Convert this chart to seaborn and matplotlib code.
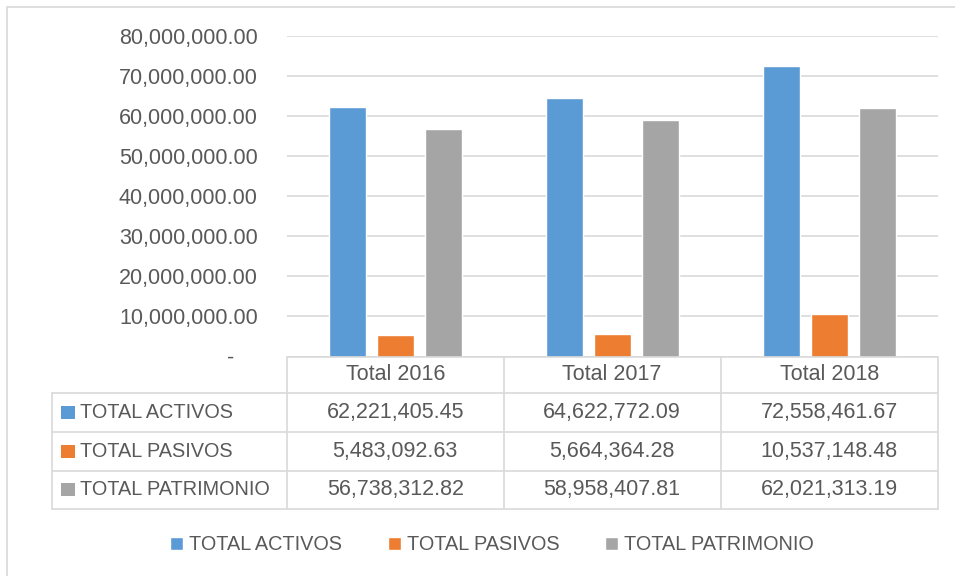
import matplotlib
matplotlib.use("Agg")
import matplotlib.pyplot as plt
import seaborn as sns
import pandas as pd
from matplotlib.lines import Line2D
from matplotlib.patches import Rectangle

# data from the chart / table
years = ["Total 2016", "Total 2017", "Total 2018"]
series = ["TOTAL ACTIVOS", "TOTAL PASIVOS", "TOTAL PATRIMONIO"]
activos = [62221405.45, 64622772.09, 72558461.67]
pasivos = [5483092.63, 5664364.28, 10537148.48]
patrimonio = [56738312.82, 58958407.81, 62021313.19]
colors = ["#5B9BD5", "#ED7D31", "#A5A5A5"]

values = [activos, pasivos, patrimonio]
df = pd.DataFrame({
    "year": [y for s in series for y in years],
    "serie": [s for s in series for y in years],
    "valor": [v for vals in values for v in vals],
})

sns.set_theme(style="white")
plt.rcParams["font.family"] = ["Liberation Sans", "DejaVu Sans"]
txt = "#595959"
line_c = "#d9d9d9"
fs = 15.5     # numbers
fs_lab = 14.3  # series names

W, H = 955, 576
fig = plt.figure(figsize=(W / 100, H / 100), dpi=100)


# pixel -> figure fraction helpers
def fx(px):
    return px / W


def fy(py):
    return 1 - py / H


# plot area
ax = fig.add_axes([fx(287), fy(356.5), (938 - 287) / W, (356.5 - 36) / H])
sns.barplot(
    data=df, x="year", y="valor", hue="serie",
    palette=colors, saturation=1, width=0.668, gap=0.23,
    errorbar=None, ax=ax
)
ax.set_xlim(-0.5, 2.5)
ax.set_ylim(0, 80e6)
ticks = [i * 10e6 for i in range(9)]
ax.set_yticks(ticks)
ax.set_yticklabels(["-    " if t == 0 else f"{t:,.2f}" for t in ticks])
ax.set_xticks([])
ax.set_xlabel("")
ax.set_ylabel("")
ax.tick_params(axis="y", length=0, pad=21, labelsize=fs, labelcolor=txt)
ax.yaxis.grid(True, color=line_c, lw=1.2)
ax.set_axisbelow(True)
for sp in ax.spines.values():
    sp.set_visible(False)

# legend below the table
sns.move_legend(
    ax, "center",
    bbox_to_anchor=(fx(492), fy(545)), bbox_transform=fig.transFigure,
    ncol=3, frameon=False, title=None, fontsize=fs_lab,
    handlelength=0.65, handleheight=0.65, handletextpad=0.3,
    columnspacing=2.3, labelcolor=txt
)


def hline(y, x0, x1):
    fig.add_artist(Line2D([fx(x0), fx(x1)], [fy(y), fy(y)],
                          transform=fig.transFigure, color=line_c, lw=1.2))


def vline(x, y0, y1):
    fig.add_artist(Line2D([fx(x), fx(x)], [fy(y0), fy(y1)],
                          transform=fig.transFigure, color=line_c, lw=1.2))


# data table
col_x = [287, 503.5, 720.7, 938]
row_y = [356.5, 393, 431.7, 470.5, 508.5]
left_x = 51.7

hline(row_y[0], col_x[0], col_x[-1])
for y in row_y[1:]:
    hline(y, left_x, col_x[-1])
vline(left_x, row_y[1], row_y[-1])
for x in col_x:
    vline(x, row_y[0], row_y[-1])

for j, yr in enumerate(years):
    cx = (col_x[j] + col_x[j + 1]) / 2
    fig.text(fx(cx), fy((row_y[0] + row_y[1]) / 2), yr, ha="center",
             va="center", fontsize=fs, color=txt)

for i, s in enumerate(series):
    cy = (row_y[i + 1] + row_y[i + 2]) / 2
    fig.add_artist(Rectangle((fx(61), fy(cy + 6.5)), 14 / W, 13 / H,
                             transform=fig.transFigure, color=colors[i],
                             lw=0))
    fig.text(fx(80), fy(cy), s, ha="left", va="center", fontsize=fs_lab,
             color=txt)
    for j in range(len(years)):
        cx = (col_x[j] + col_x[j + 1]) / 2
        fig.text(fx(cx), fy(cy), f"{values[i][j]:,.2f}", ha="center",
                 va="center", fontsize=fs, color=txt)

# outer chart border (top and left visible)
hline(7, 7, W)
vline(7, 7, H)

fig.savefig("out.png", dpi=100)
